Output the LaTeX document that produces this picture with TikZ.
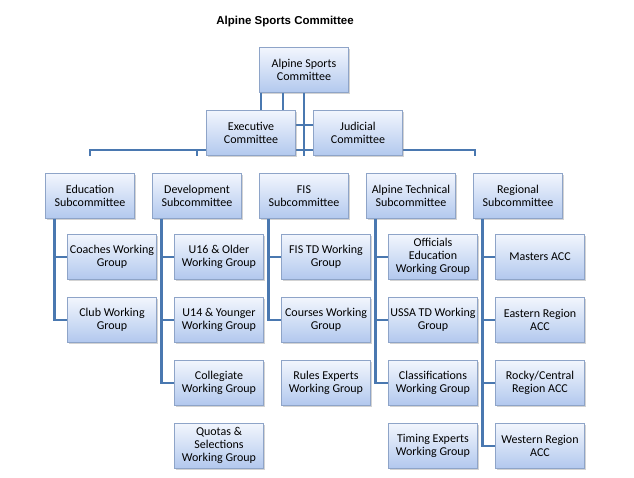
\documentclass[tikz,border=0pt]{standalone}
\usepackage{fontspec}
\setmainfont{Carlito}
\newfontfamily\titlefont{Liberation Sans}
\usepackage{tikz}
\usetikzlibrary{positioning,shadows}
\definecolor{boxtop}{HTML}{F2F6FD}
\definecolor{boxbot}{HTML}{B2C8EE}
\definecolor{boxline}{HTML}{8EA4C8}
\definecolor{linkcol}{HTML}{4A78B0}

\begin{document}
\begin{tikzpicture}[x=1pt, y=-1pt,
  every unit/.style={draw=boxline, line width=0.6pt, top color=boxtop, bottom color=boxbot,
    minimum width=89pt, minimum height=45pt, align=center, inner sep=1pt,
    font=\fontsize{12}{13}\selectfont, drop shadow={opacity=0.35, shadow xshift=1.5pt, shadow yshift=-1.5pt}},
  link/.style={draw=linkcol, line width=2.6pt}]

\useasboundingbox (0,0) rectangle (634,477);

\node [font=\titlefont\bfseries\fontsize{11.5}{13}\selectfont] (title) at (285,22) {Alpine Sports Committee};

\node [every unit] (asc) at (304,70) {Alpine Sports\\Committee};

% committee stem and bar
\draw [link] (asc.south) -- (304,156);
\draw [link] (90,156) |- (475,150) -- (475,156);
\draw [link] (197,150) -- (197,156);
\draw [link] (asc.south -| 261,0) -- (261,110);
\draw [link] (asc.south -| 283,0) -- (283,110);
\draw [link] (296,125) -- (313,125);

\node [every unit] (exec) at (251,133) {Executive\\Committee};
\node [every unit] (judi) at (358,133) {Judicial\\Committee};

\foreach \m/\l [count=\i] in {edu/{Education\\Subcommittee}, dev/{Development\\Subcommittee},
    fis/{FIS\\Subcommittee}, tech/{Alpine Technical\\Subcommittee}, reg/{Regional\\Subcommittee}}
  \node [every unit] (sub-\m) at (90+\i*107-107,196) {\l};

% working groups
\foreach \m/\k/\l in {edu/1/{Coaches Working\\Group}, edu/2/{Club Working\\Group},
    dev/1/{U16 \& Older\\Working Group}, dev/2/{U14 \& Younger\\Working Group},
    dev/3/{Collegiate\\Working Group}, dev/4/{Quotas \&\\Selections\\Working Group},
    fis/1/{FIS TD Working\\Group}, fis/2/{Courses Working\\Group}, fis/3/{Rules Experts\\Working Group},
    tech/1/{Officials\\Education\\Working Group}, tech/2/{USSA TD Working\\Group},
    tech/3/{Classifications\\Working Group}, tech/4/{Timing Experts\\Working Group},
    reg/1/{Masters ACC}, reg/2/{Eastern Region\\ACC}, reg/3/{Rocky/Central\\Region ACC},
    reg/4/{Western Region\\ACC}}
  \node [every unit, right=22pt of sub-\m.south west, anchor=west,
         yshift=-\k*63pt+25pt] (wg-\m-\k) {\l};

\foreach \m/\n in {edu/2, dev/3, fis/2, tech/3, reg/4} {
  \draw [link] ([xshift=9pt]sub-\m.south west) -- ([xshift=9pt]sub-\m.south west |- wg-\m-\n.west)
    -- (wg-\m-\n.west);
  \foreach \k in {1,...,\n}
    \draw [link] ([xshift=9pt]sub-\m.south west |- wg-\m-\k.west) -- (wg-\m-\k.west);
}
\end{tikzpicture}
\end{document}
